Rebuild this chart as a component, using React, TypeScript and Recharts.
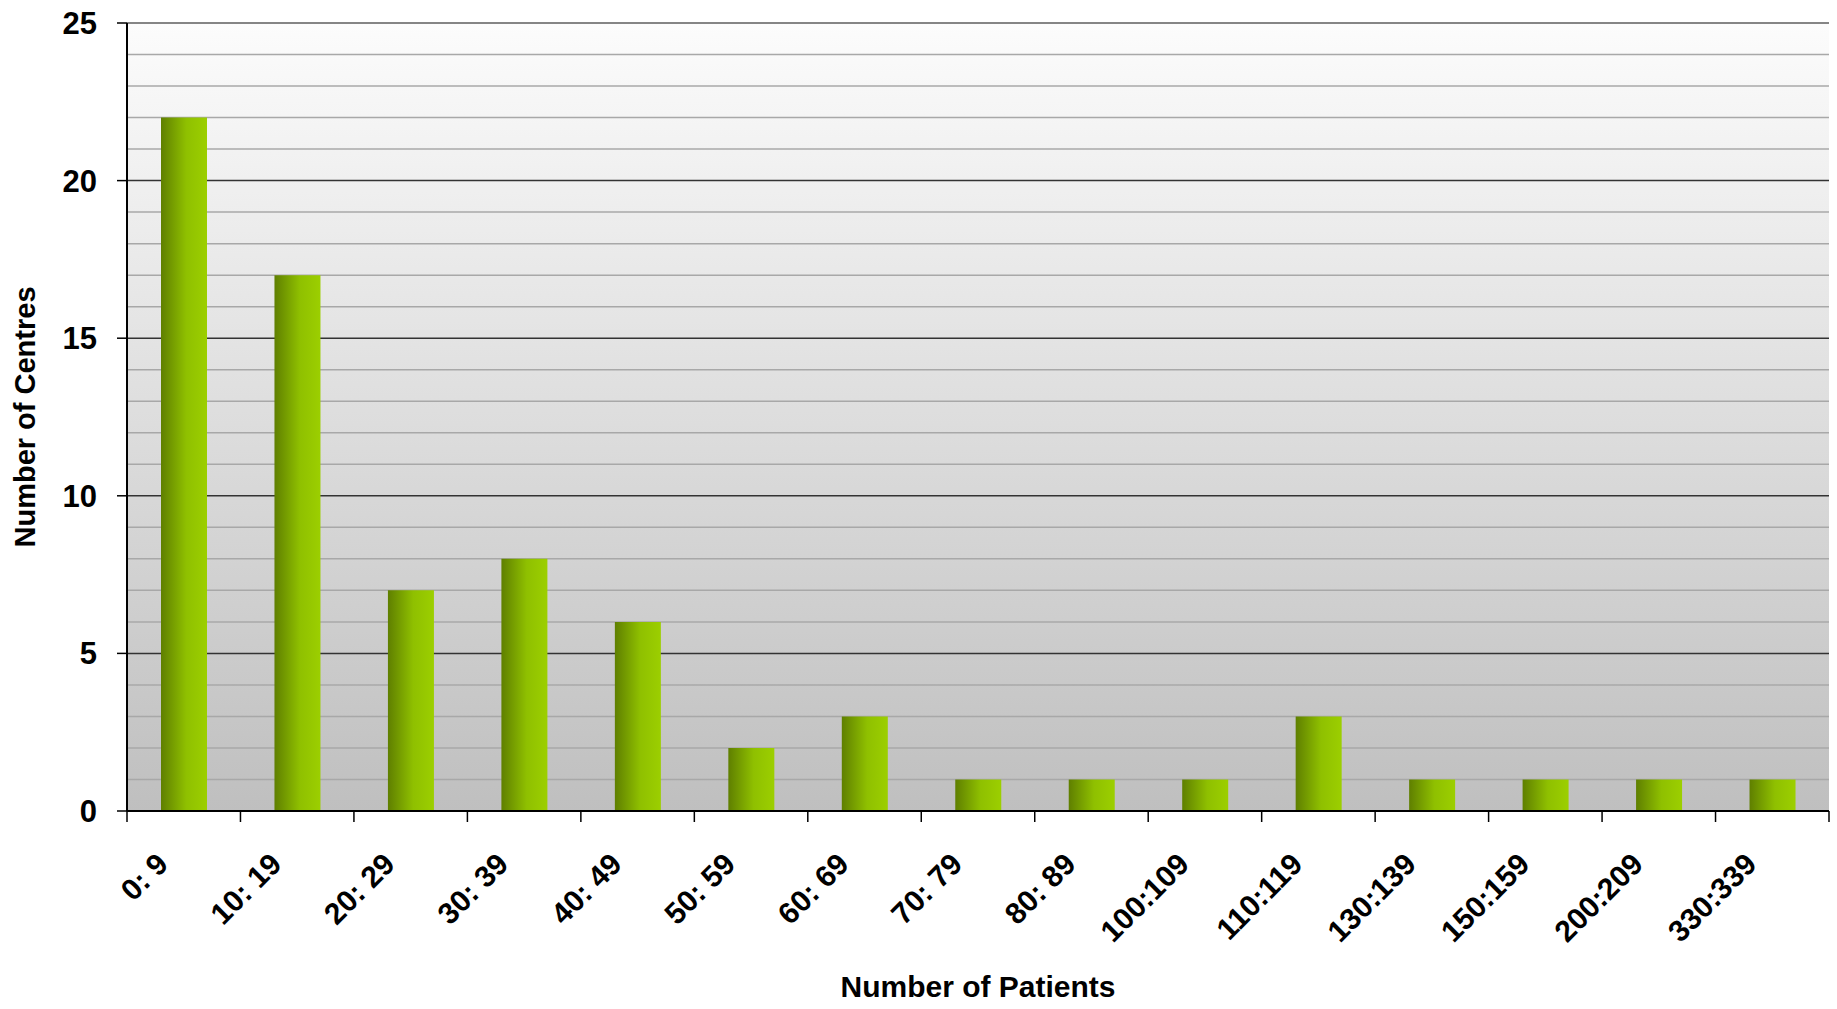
import { Bar, BarChart, CartesianGrid, ReferenceLine, XAxis, YAxis } from "recharts";

const patientBands = [
  "0: 9",
  "10: 19",
  "20: 29",
  "30: 39",
  "40: 49",
  "50: 59",
  "60: 69",
  "70: 79",
  "80: 89",
  "100:109",
  "110:119",
  "130:139",
  "150:159",
  "200:209",
  "330:339",
];
const centreCounts = [22, 17, 7, 8, 6, 2, 3, 1, 1, 1, 3, 1, 1, 1, 1];
const yTicks = [0, 5, 10, 15, 20, 25];
const minorGrid = [1, 2, 3, 4, 6, 7, 8, 9, 11, 12, 13, 14, 16, 17, 18, 19, 21, 22, 23, 24];
const majorGrid = [5, 10, 15, 20];

const data = patientBands.map((band, i) => ({ band, centres: centreCounts[i] }));

const FONT = "'Liberation Sans', Arial, sans-serif";

// category tick: boundary tick marks (Excel style) plus a label slanted at 45°
function BandTick(props: any) {
  const { x, y, payload, index } = props;
  const half = payload.offset ?? 0;
  const last = index === patientBands.length - 1;
  const lx = x - 14;
  const ly = y + 55;
  return (
    <g>
      <line x1={x - half} x2={x - half} y1={y} y2={y + 11} stroke="#000" strokeWidth={1.5} />
      {last && <line x1={x + half} x2={x + half} y1={y} y2={y + 11} stroke="#000" strokeWidth={1.5} />}
      <text
        x={lx}
        y={ly}
        transform={`rotate(-45 ${lx} ${ly})`}
        textAnchor="end"
        fontFamily={FONT}
        fontWeight="bold"
        fontSize={30}
        fill="#000"
      >
        {payload.value}
      </text>
    </g>
  );
}

function YTitle(props: any) {
  const { viewBox } = props;
  const cx = viewBox.x + 25;
  const cy = viewBox.y + viewBox.height / 2;
  return (
    <text
      x={cx}
      y={cy}
      transform={`rotate(-90 ${cx} ${cy})`}
      textAnchor="middle"
      dominantBaseline="central"
      fontFamily={FONT}
      fontWeight="bold"
      fontSize={29}
      fill="#000"
    >
      Number of Centres
    </text>
  );
}

export default function App() {
  return (
    <div style={{ position: "absolute", left: 0, top: 0, width: 1837, height: 1009, background: "#fff" }}>
      <BarChart width={1837} height={1009} data={data} margin={{ top: 23, right: 8, left: 0, bottom: 0 }} barCategoryGap={0}>
        <defs>
          <linearGradient id="plot-bg" x1="0" y1="0" x2="0" y2="1">
            <stop offset="0%" stopColor="#fcfcfc" />
            <stop offset="100%" stopColor="#bfbfbf" />
          </linearGradient>
          <linearGradient id="bar-fill" x1="0" y1="0" x2="1" y2="0">
            <stop offset="0%" stopColor="#5f7f00" />
            <stop offset="55%" stopColor="#8fc000" />
            <stop offset="100%" stopColor="#9ccf00" />
          </linearGradient>
        </defs>
        <CartesianGrid
          vertical={false}
          fill="url(#plot-bg)"
          horizontalValues={minorGrid}
          stroke="#a8a8a8"
          strokeWidth={1.5}
        />
        <CartesianGrid vertical={false} horizontalValues={majorGrid} stroke="#333" strokeWidth={1.5} />
        <XAxis
          dataKey="band"
          height={198}
          interval={0}
          tickSize={0}
          tickMargin={0}
          axisLine={{ stroke: "#000", strokeWidth: 2 }}
          tick={<BandTick />}
          label={{
            value: "Number of Patients",
            position: "insideBottom",
            offset: 12,
            fontFamily: FONT,
            fontWeight: "bold",
            fontSize: 30,
            fill: "#000",
          }}
        />
        <YAxis
          width={127}
          domain={[0, 25]}
          ticks={yTicks}
          interval={0}
          tickSize={10}
          tickMargin={20}
          axisLine={{ stroke: "#000", strokeWidth: 2 }}
          tickLine={{ stroke: "#000", strokeWidth: 1.5 }}
          tick={{ fontFamily: FONT, fontWeight: "bold", fontSize: 31, fill: "#000" }}
          label={<YTitle />}
        />
        <YAxis
          yAxisId="frame"
          orientation="right"
          width={0}
          domain={[0, 25]}
          tick={false}
          tickLine={false}
          axisLine={{ stroke: "#858585", strokeWidth: 3 }}
        />
        <ReferenceLine y={25} stroke="#858585" strokeWidth={2} />
        <Bar dataKey="centres" fill="url(#bar-fill)" barSize={46} isAnimationActive={false} />
      </BarChart>
    </div>
  );
}
